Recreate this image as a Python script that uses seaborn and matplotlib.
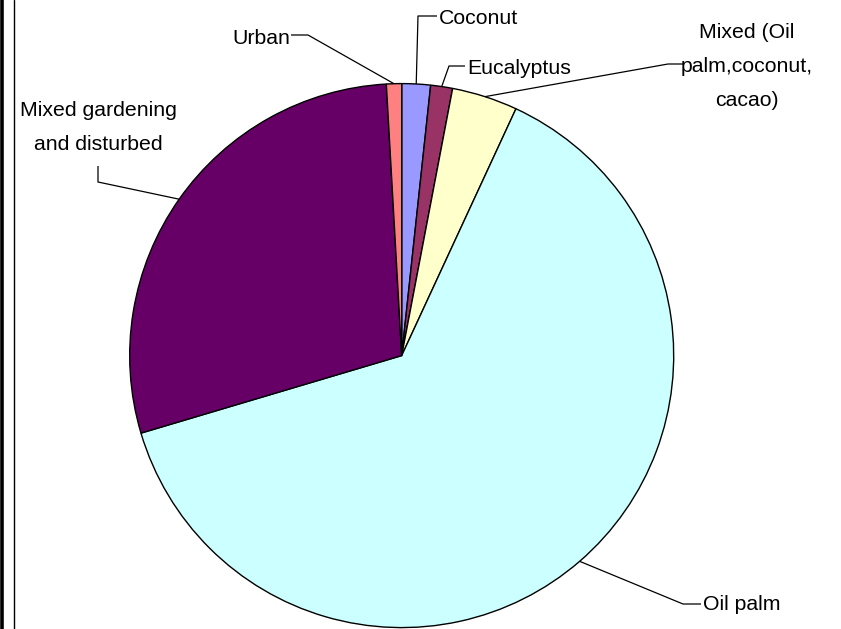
import numpy as np
import matplotlib
matplotlib.use("Agg")
import matplotlib.pyplot as plt
import seaborn as sns
from matplotlib.lines import Line2D

# ---- data ----
categories = ["Coconut", "Eucalyptus", "Mixed (Oil palm,coconut, cacao)",
              "Oil palm", "Mixed gardening and disturbed", "Urban"]
shares = [1.7, 1.3, 3.9, 63.5, 28.7, 0.9]
label_text = ["Coconut", "Eucalyptus", "Mixed (Oil\npalm,coconut,\ncacao)",
              "Oil palm", "Mixed gardening\nand disturbed", "Urban"]
colors = ["#9999FF", "#993366", "#FFFFCC", "#CCFFFF", "#660066", "#FF8080"]

# ---- layout (pixels) ----
W, H = 841, 629
CX, CY, R = 401.7, 355.6, 272.0
# elbow point, end point of leader, text position, ha
leader_layout = [
    ((418, 16), (437, 16), (439, 18), "left"),
    ((449, 66), (465, 66), (467, 69), "left"),
    ((668, 64), (683, 64), (747, 66), "center"),
    ((683, 604), (701, 604), (703, 605), "left"),
    ((98, 182), (98, 166), (98, 128), "center"),
    ((308, 35), (291, 35), (290, 38), "right"),
]

sns.set_theme(style="white")
plt.rcParams["font.family"] = ["Liberation Sans", "DejaVu Sans"]


def px(x, y):
    return ((x - CX) / R, (CY - y) / R)


fig = plt.figure(figsize=(W / 100, H / 100), dpi=100)
ax = fig.add_axes([0, 0, 1, 1])
wedges, _ = ax.pie(shares, colors=colors, startangle=90, counterclock=False,
                   radius=1.0,
                   wedgeprops=dict(edgecolor="black", linewidth=1.0))
ax.set_xlim(-CX / R, (W - CX) / R)
ax.set_ylim(-(H - CY) / R, CY / R)
ax.set_aspect("auto")
ax.axis("off")

for w, txt, (elb, end, tpos, ha) in zip(wedges, label_text, leader_layout):
    mid = np.deg2rad((w.theta1 + w.theta2) / 2.0)
    ax0 = (np.cos(mid), np.sin(mid))
    e = px(*elb)
    n = px(*end)
    ax.plot([ax0[0], e[0], n[0]], [ax0[1], e[1], n[1]], color="black",
            lw=0.9, solid_capstyle="butt", zorder=5)
    t = px(*tpos)
    ax.text(t[0], t[1], txt, ha=ha, va="center", fontsize=15.3,
            multialignment="center", linespacing=2.0, color="black")

# left double border
fig.add_artist(Line2D([1.5 / W, 1.5 / W], [0, 1], color="black", lw=2.6,
                      transform=fig.transFigure))
fig.add_artist(Line2D([13.5 / W, 13.5 / W], [0, 1], color="black", lw=1.0,
                      transform=fig.transFigure))

fig.savefig("out.png", dpi=100, facecolor="white")
